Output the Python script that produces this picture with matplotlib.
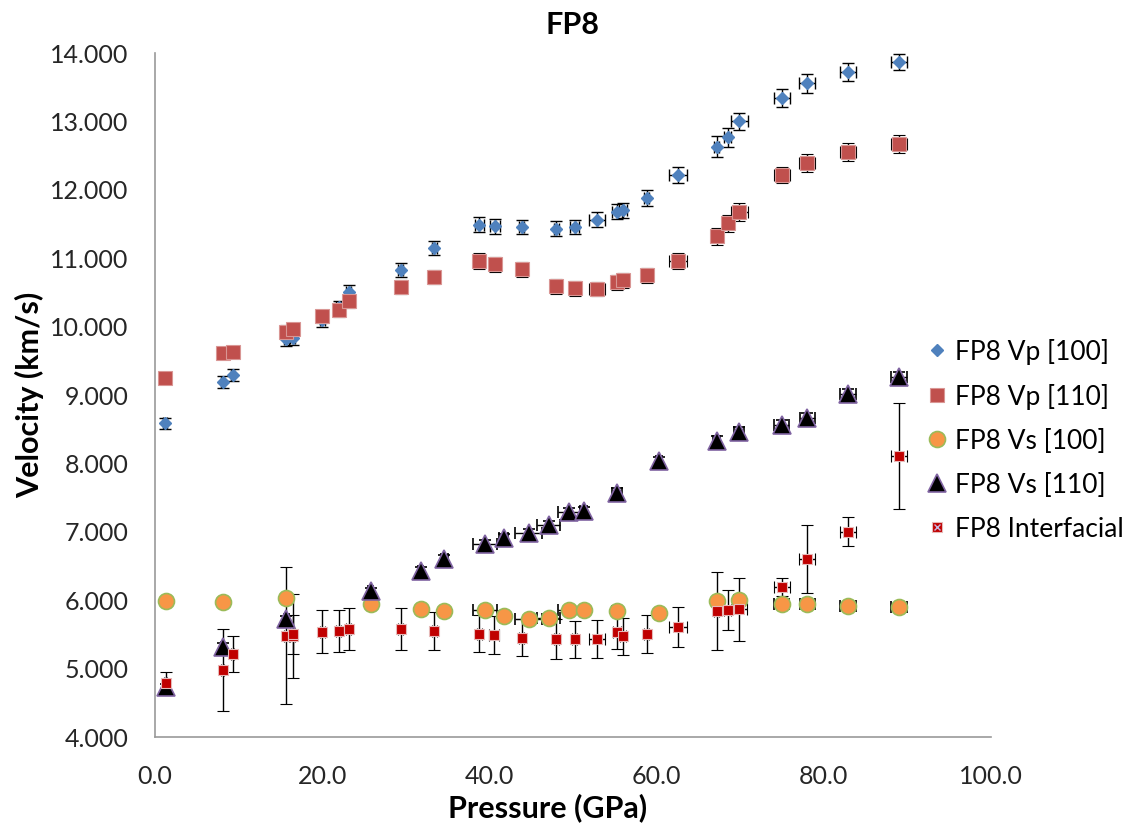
import numpy as np
import matplotlib.pyplot as plt
from matplotlib.ticker import FormatStrFormatter

plt.rcParams['font.family'] = ['Lato', 'DejaVu Sans']

# Vp measurements (both directions share pressures)
p_vp = [1.2, 8.1, 9.3, 15.7, 16.5, 20.0, 22.0, 23.2, 29.4, 33.4, 38.8, 40.7, 43.9, 48.0,
        50.2, 52.9, 55.3, 56.0, 58.8, 62.6, 67.2, 68.5, 69.9, 75.0, 78.0, 82.9, 89.0]
p_vp_err = [0.2, 0.2, 0.2, 0.3, 0.3, 0.3, 0.3, 0.3, 0.3, 0.3, 0.5, 0.6, 0.3, 0.3,
            0.5, 0.95, 0.6, 0.5, 0.3, 1.1, 0.3, 0.4, 1.0, 1.0, 1.0, 1.0, 1.0]
vp100 = [8.59, 9.19, 9.29, 9.82, 9.83, 10.10, 10.28, 10.51, 10.83, 11.15, 11.49, 11.47, 11.46, 11.43,
         11.46, 11.56, 11.68, 11.70, 11.88, 12.22, 12.63, 12.77, 13.00, 13.34, 13.56, 13.72, 13.87]
vp100_err = [0.08, 0.09, 0.09, 0.10, 0.10, 0.10, 0.10, 0.10, 0.10, 0.10, 0.11, 0.11, 0.10, 0.11,
             0.10, 0.11, 0.11, 0.11, 0.12, 0.12, 0.15, 0.14, 0.13, 0.13, 0.14, 0.13, 0.12]
vp110 = [9.25, 9.61, 9.63, 9.92, 9.96, 10.15, 10.24, 10.37, 10.58, 10.73, 10.96, 10.91, 10.84, 10.59,
         10.56, 10.55, 10.65, 10.68, 10.75, 10.96, 11.32, 11.51, 11.68, 12.22, 12.39, 12.55, 12.67]
vp110_err = [0.07, 0.09, 0.09, 0.10, 0.10, 0.10, 0.10, 0.10, 0.10, 0.10, 0.12, 0.11, 0.11, 0.11,
             0.11, 0.10, 0.11, 0.11, 0.11, 0.12, 0.12, 0.12, 0.13, 0.12, 0.13, 0.13, 0.13]

# Vs measurements
p_vs = [1.3, 8.1, 15.7, 25.8, 31.8, 34.6, 39.5, 41.7, 44.7, 47.1, 49.5, 51.3, 55.3, 60.3,
        67.2, 69.9, 75.0, 78.0, 82.9, 89.0]
p_vs_err = [0.2, 0.2, 0.3, 0.3, 0.3, 0.4, 1.4, 0.5, 1.6, 1.4, 1.3, 0.4, 0.6, 0.4,
            0.4, 0.6, 0.9, 0.9, 0.9, 0.9]
vs100 = [5.99, 5.97, 6.03, 5.94, 5.87, 5.84, 5.86, 5.77, 5.73, 5.74, 5.86, 5.86, 5.84, 5.81,
         5.99, 6.01, 5.94, 5.94, 5.91, 5.90]
vs100_err = [0.03] * 20
vs110 = [4.73, 5.32, 5.72, 6.13, 6.43, 6.60, 6.82, 6.91, 6.98, 7.10, 7.29, 7.30, 7.57, 8.04,
         8.33, 8.46, 8.56, 8.66, 9.01, 9.26]
vs110_err = [0.04, 0.05, 0.05, 0.05, 0.05, 0.06, 0.06, 0.06, 0.06, 0.06, 0.06, 0.06, 0.07, 0.06,
             0.07, 0.07, 0.07, 0.08, 0.08, 0.08]

# Interfacial velocity
p_if = [1.3, 8.1, 9.3, 15.7, 16.5, 16.5, 20.0, 22.0, 23.2, 29.4, 33.4, 38.8, 40.6, 43.9,
        48.0, 50.2, 52.9, 55.3, 56.0, 58.8, 62.6, 67.2, 68.5, 69.9, 75.0, 78.0, 82.9, 89.0]
p_if_err = [0.2, 0.2, 0.2, 0.3, 0.3, 0.3, 0.3, 0.3, 0.3, 0.3, 0.3, 0.3, 0.6, 0.3,
            0.3, 0.3, 0.95, 0.5, 0.4, 0.3, 1.1, 0.3, 0.4, 0.9, 1.0, 1.0, 1.0, 1.0]
v_if = [4.79, 4.98, 5.21, 5.48, 5.48, 5.50, 5.54, 5.55, 5.58, 5.58, 5.55, 5.51, 5.49, 5.45,
        5.43, 5.43, 5.43, 5.54, 5.47, 5.51, 5.61, 5.84, 5.86, 5.87, 6.19, 6.60, 7.00, 8.11]
v_if_err = [0.16, 0.60, 0.26, 1.00, 0.61, 0.28, 0.31, 0.30, 0.31, 0.31, 0.28, 0.27, 0.28, 0.27,
            0.29, 0.27, 0.28, 0.25, 0.27, 0.28, 0.29, 0.57, 0.29, 0.46, 0.13, 0.50, 0.21, 0.77]

fig = plt.figure(figsize=(11.41, 8.31), dpi=100)
ax = fig.add_axes([0.1358, 0.1131, 0.7327, 0.8231])

eb = dict(ecolor='black', elinewidth=1, capsize=4, capthick=1, linestyle='none')

h1 = ax.errorbar(p_vp, vp100, yerr=vp100_err, xerr=p_vp_err, fmt='D', ms=6.5,
                 mfc='#4F81BD', mec='#4F81BD', **eb)
h2 = ax.errorbar(p_vp, vp110, yerr=vp110_err, xerr=p_vp_err, fmt='s', ms=9.5,
                 mfc='#C0504D', mec='#D99694', mew=0.8, **eb)
h3 = ax.errorbar(p_vs, vs100, yerr=vs100_err, xerr=p_vs_err, fmt='o', ms=11.5,
                 mfc='#F79646', mec='#9BBB59', mew=1.2, **eb)
h4 = ax.errorbar(p_vs, vs110, yerr=vs110_err, xerr=p_vs_err, fmt='^', ms=13,
                 mfc='black', mec='#8064A2', mew=1.2, **eb)
h5 = ax.errorbar(p_if, v_if, yerr=v_if_err, xerr=p_if_err, fmt='s', ms=7,
                 mfc='#C00000', mec='#E6B9B8', mew=0.8, **eb)
x5, = ax.plot(p_if, v_if, 'x', ms=4.5, mec='#C9B8E0', mew=1.0, linestyle='none')

ax.set_xlim(0, 100)
ax.set_ylim(4, 14)
ax.set_xticks(np.arange(0, 101, 20))
ax.set_yticks(np.arange(4, 14.1, 1))
ax.xaxis.set_major_formatter(FormatStrFormatter('%.1f'))
ax.yaxis.set_major_formatter(FormatStrFormatter('%.3f'))
ax.tick_params(length=0, labelsize=18, colors='#262626')
ax.tick_params(axis='x', pad=20)
ax.tick_params(axis='y', pad=19)

for s in ['top', 'right']:
    ax.spines[s].set_visible(False)
for s in ['left', 'bottom']:
    ax.spines[s].set_color('#9A9A9A')
    ax.spines[s].set_linewidth(1.2)

ax.set_title('FP8', fontsize=22, fontweight='bold', pad=14)
ax.set_xlabel('Pressure (GPa)', fontsize=22, fontweight='bold', labelpad=4)
ax.set_ylabel('Velocity (km/s)', fontsize=22, fontweight='bold', labelpad=4)
ax.xaxis.label.set_x(0.47)

fig.legend([h1[0], h2[0], h3[0], h4[0], (h5[0], x5)],
           ['FP8 Vp [100]', 'FP8 Vp [110]', 'FP8 Vs [100]', 'FP8 Vs [110]', 'FP8 Interfacial'],
           loc='center left', bbox_to_anchor=(0.8003, 0.4705), frameon=False,
           borderaxespad=0, fontsize=19, handlelength=1.0, handletextpad=0.2,
           labelspacing=0.72)

fig.savefig('out.png', dpi=100)
